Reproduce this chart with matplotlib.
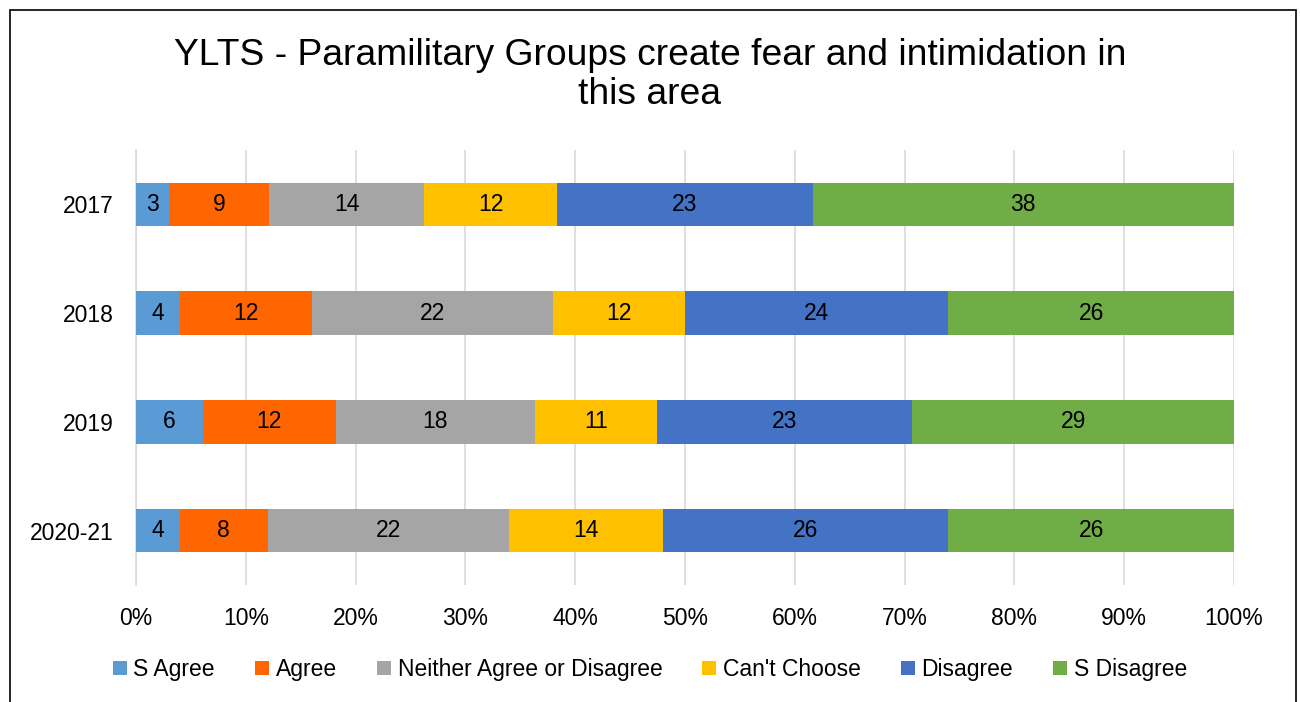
import matplotlib.pyplot as plt
import numpy as np
from matplotlib.patches import Rectangle

plt.rcParams['font.family'] = ['Liberation Sans', 'DejaVu Sans']

years = ["2017", "2018", "2019", "2020-21"]
categories = ["S Agree", "Agree", "Neither Agree or Disagree", "Can't Choose", "Disagree", "S Disagree"]
s_agree = [3, 4, 6, 4]
agree = [9, 12, 12, 8]
neither = [14, 22, 18, 22]
cant_choose = [12, 12, 11, 14]
disagree = [23, 24, 23, 26]
s_disagree = [38, 26, 29, 26]
colors = ["#5B9BD5", "#FF6600", "#A5A5A5", "#FFC000", "#4472C4", "#70AD47"]

series = np.array([s_agree, agree, neither, cant_choose, disagree, s_disagree], dtype=float)
totals = series.sum(axis=0)
shares = series / totals

fs = 16.5

fig = plt.figure(figsize=(13, 7.02), dpi=100)
ax = fig.add_axes([0.1046, 0.1667, 0.8446, 0.6196])

y = np.arange(len(years))
left = np.zeros(len(years))
for i, name in enumerate(categories):
    ax.barh(y, shares[i], left=left, height=0.4, color=colors[i], label=name, zorder=3)
    for j in range(len(years)):
        ax.text(left[j] + shares[i][j] / 2, y[j], f"{int(series[i][j])}",
                ha='center', va='center', fontsize=fs, color='black', zorder=4)
    left += shares[i]

ax.set_xlim(0, 1)
ax.set_ylim(3.5, -0.5)
ax.set_yticks(y)
ax.set_yticklabels(years, fontsize=fs)
ax.set_xticks(np.linspace(0, 1, 11))
ax.set_xticklabels([f"{v}%" for v in range(0, 101, 10)], fontsize=fs)
ax.tick_params(axis='y', length=0, pad=16)
ax.tick_params(axis='x', length=0, pad=16)
ax.grid(axis='x', color='#D9D9D9', linewidth=1.2, zorder=0)
for s in ['top', 'right', 'bottom']:
    ax.spines[s].set_visible(False)
ax.spines['left'].set_color('#D9D9D9')
ax.spines['left'].set_linewidth(1.2)

fig.text(0.5, 0.893, "YLTS - Paramilitary Groups create fear and intimidation in\nthis area",
         ha='center', va='center', fontsize=26.8, linespacing=1.15)

handles, labels = ax.get_legend_handles_labels()
fig.legend(handles, labels, loc='center', bbox_to_anchor=(0.5, 0.046), ncol=6,
           frameon=False, fontsize=fs, handlelength=0.6, handleheight=0.6,
           handletextpad=0.3, columnspacing=1.75)

fig.patches.append(Rectangle((10 / 1300, -0.1), 1286 / 1300, 1 + 0.1 - 10 / 702,
                             transform=fig.transFigure, fill=False,
                             edgecolor='black', linewidth=1.2))

fig.savefig("out.png", dpi=100)
